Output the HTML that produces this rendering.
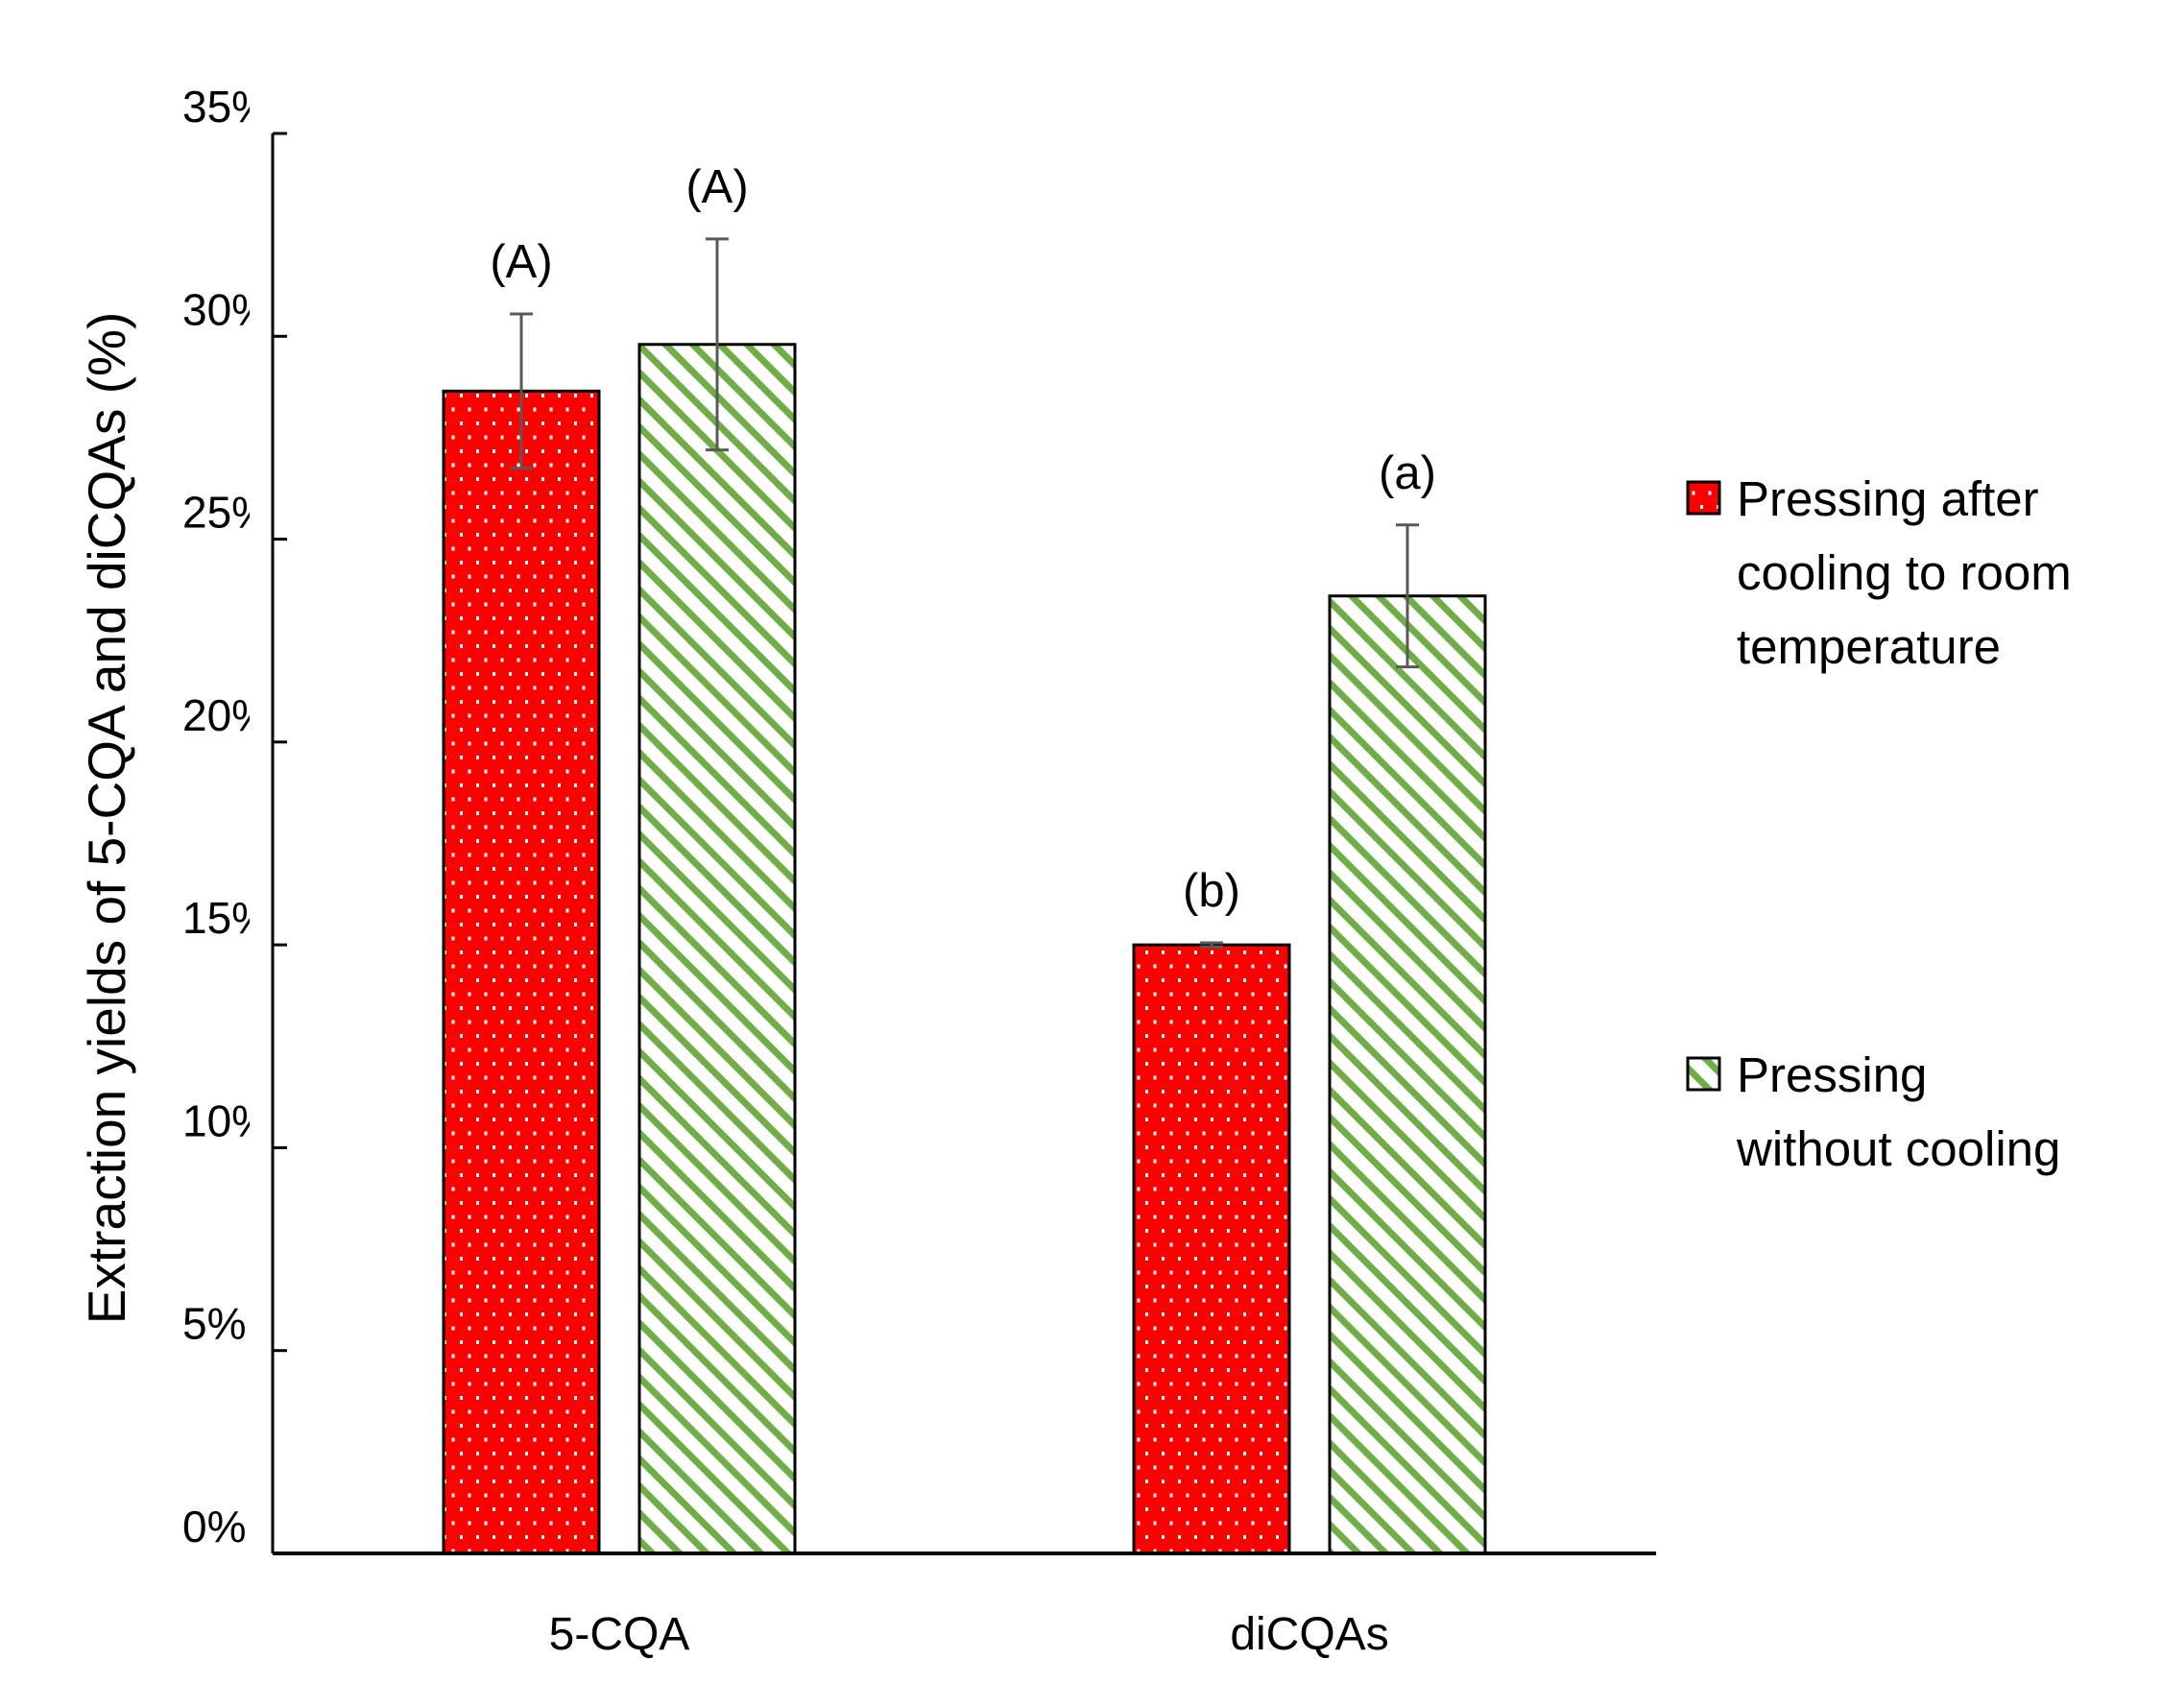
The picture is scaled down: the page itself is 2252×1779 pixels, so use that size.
<!DOCTYPE html>
<html><head><meta charset="utf-8"><style>
html,body{margin:0;padding:0;background:#fff;}
svg{display:block;font-family:"Liberation Sans",sans-serif;}
</style></head><body>
<svg id="chart" width="2252" height="1779" viewBox="0 0 2252 1779" xmlns="http://www.w3.org/2000/svg">
<defs>
<pattern id="dots" patternUnits="userSpaceOnUse" width="17" height="29">
<rect width="17" height="29" fill="#ff0000"/>
<rect x="3" y="4" width="3" height="4" fill="#fff"/>
<rect x="11.5" y="18.5" width="3" height="4" fill="#fff"/>
</pattern>
<pattern id="stripes" patternUnits="userSpaceOnUse" width="20" height="20" patternTransform="rotate(45)">
<rect width="20" height="20" fill="#fff"/>
<rect x="0" y="0" width="20" height="7" fill="#70ad47"/>
</pattern>
<clipPath id="tickclip"><rect x="0" y="0" width="260" height="1779"/></clipPath>
</defs>
<g id="plot"></g>
<text transform="translate(130,852) rotate(-90)" text-anchor="middle" font-size="55" fill="#000">Extraction yields of 5-CQA and diCQAs (%)</text>
<g>
<rect x="1758" y="502" width="33" height="33" fill="url(#dots)" stroke="#000" stroke-width="3"/>
<text x="1809" y="537" font-size="51" fill="#000"><tspan x="1809">Pressing after</tspan><tspan x="1809" dy="77">cooling to room</tspan><tspan x="1809" dy="77">temperature</tspan></text>
<rect x="1758" y="1102" width="33" height="33" fill="url(#stripes)" stroke="#000" stroke-width="3"/>
<text x="1809" y="1137" font-size="51" fill="#000"><tspan x="1809">Pressing</tspan><tspan x="1809" dy="77">without cooling</tspan></text>
</g>
</svg>
<script>
const categories = ["5-CQA", "diCQAs"];
const seriesCooled = [28.65, 15.0];
const seriesUncooled = [29.8, 23.6];
const errCooled = [1.9, 0.05];
const errUncooled = [2.6, 1.75];
const lettersCooled = ["(A)", "(b)"];
const lettersUncooled = ["(A)", "(a)"];
const yTicks = [0, 5, 10, 15, 20, 25, 30, 35];
const yTickLabels = ["0%", "5%", "10%", "15%", "20%", "25%", "30%", "35%"];

const NS = "http://www.w3.org/2000/svg";
const X0 = 284, X1 = 1725, Y0 = 1618, YTOP = 139, YMAX = 35;
const y = v => Y0 - (v / YMAX) * (Y0 - YTOP);
const groupCenters = [645, 1364];
const barW = 162, gapHalf = 21;
const plot = document.getElementById('plot');
function mk(tag, attrs, parent) {
  const el = document.createElementNS(NS, tag);
  for (const k in attrs) el.setAttribute(k, attrs[k]);
  (parent || plot).appendChild(el);
  return el;
}
const ya = mk('line', {x1: X0, y1: YTOP, x2: X0, y2: Y0, stroke: '#000', 'stroke-width': 3});


yTicks.forEach((t, i) => {
  const tk = mk('line', {x1: X0, y1: y(t), x2: X0 + 15, y2: y(t), stroke: '#000', 'stroke-width': 3});
  
  
  const lb = mk('text', {x: 190, y: y(t) - 12, 'font-size': 46, fill: '#000', 'clip-path': 'url(#tickclip)'});
  lb.textContent = yTickLabels[i];
  
  
});
function bar(cx, v, e, fill, name, letter) {
  const r = mk('rect', {x: cx, y: y(v), width: barW, height: Y0 - y(v), fill: fill, stroke: '#000', 'stroke-width': 3});
  
  
  const mx = cx + barW / 2;
  const eb = mk('path', {d: `M${mx},${y(v + e)}V${y(v - e)}M${mx - 12},${y(v + e)}H${mx + 12}M${mx - 12},${y(v - e)}H${mx + 12}`, stroke: '#595959', 'stroke-width': 3, fill: 'none'});
  
  
  const lt = mk('text', {x: mx, y: y(v + e) - 38, 'font-size': 49, 'text-anchor': 'middle', fill: '#000'});
  lt.textContent = letter;
  
  
}
categories.forEach((c, i) => {
  const gc = groupCenters[i];
  bar(gc - gapHalf - barW, seriesCooled[i], errCooled[i], 'url(#dots)', 'bar-cooled-' + i, lettersCooled[i]);
  bar(gc + gapHalf, seriesUncooled[i], errUncooled[i], 'url(#stripes)', 'bar-uncooled-' + i, lettersUncooled[i]);
  const cl = mk('text', {x: gc, y: 1718, 'font-size': 48, 'text-anchor': 'middle', fill: '#000'});
  cl.textContent = c;
  
  
});
const xa = mk('line', {x1: X0, y1: Y0, x2: X1, y2: Y0, stroke: '#000', 'stroke-width': 4});


</script>
</body></html>
